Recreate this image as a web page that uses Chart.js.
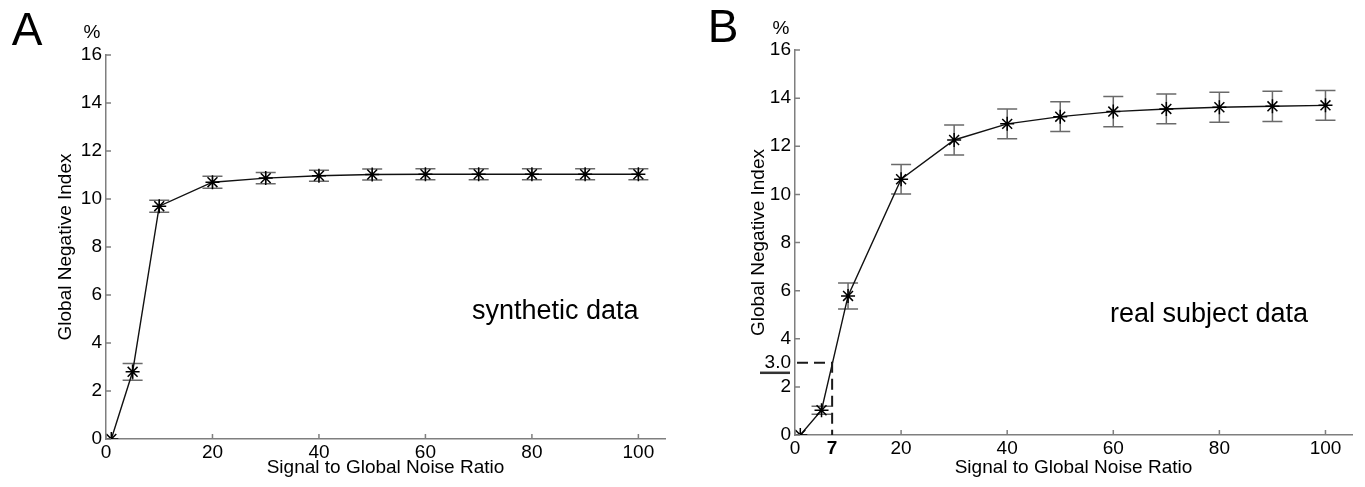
<!DOCTYPE html>
<html>
<head>
<meta charset="utf-8">
<script src="https://cdn.jsdelivr.net/npm/chart.js@4.4.0/dist/chart.umd.min.js"></script>
<style>
  body { margin: 0; background: #fff; width: 1365px; height: 487px; overflow: hidden; position: relative; }
  .panel { position: absolute; top: 0; height: 487px; }
  #wrapA { left: 0; width: 682px; }
  #wrapB { left: 682px; width: 683px; }
</style>
</head>
<body>
<div class="panel" id="wrapA"><canvas id="chartA"></canvas></div>
<div class="panel" id="wrapB"><canvas id="chartB"></canvas></div>
<script>
// signal to global noise ratio (x)
const snr = [1, 5, 10, 20, 30, 40, 50, 60, 70, 80, 90, 100];

// panel A: synthetic data
const syntheticGNI = [0, 2.8, 9.7, 10.7, 10.87, 10.97, 11.02, 11.03, 11.03, 11.03, 11.03, 11.03];
const syntheticErr = [0, 0.35, 0.25, 0.25, 0.23, 0.23, 0.23, 0.23, 0.23, 0.23, 0.23, 0.23];

// panel B: real subject data
const realGNI = [0, 1.03, 5.78, 10.63, 12.26, 12.93, 13.23, 13.44, 13.55, 13.62, 13.66, 13.7];
const realErr = [0, 0.17, 0.54, 0.61, 0.62, 0.62, 0.62, 0.63, 0.62, 0.62, 0.63, 0.62];

// tick labels
const xTicksA = [0, 20, 40, 60, 80, 100];
const yTicksA = [0, 2, 4, 6, 8, 10, 12, 14, 16];
const xTicksB = [0, 7, 20, 40, 60, 80, 100];
const yTicksB = [0, 2, 3, 4, 6, 8, 10, 12, 14, 16];

// threshold marked in panel B
const markSnr = 7;
const markGNI = 3.0;

const FONT = 'Arial, "Liberation Sans", sans-serif';
const AXIS_GREY = '#7f7f7f';

const decor = {
  id: 'decor',
  beforeDatasetsDraw(chart, args, opts) {
    const { ctx } = chart;
    const x = chart.scales.x, y = chart.scales.y;
    ctx.save();
    ctx.strokeStyle = '#6a6a6a';
    ctx.lineWidth = 1.5;
    opts.values.forEach((v, i) => {
      const e = opts.errors[i];
      if (!e) return;
      const px = x.getPixelForValue(opts.xs[i]);
      const top = y.getPixelForValue(v + e);
      const bot = y.getPixelForValue(v - e);
      ctx.beginPath();
      ctx.moveTo(px, top); ctx.lineTo(px, bot);
      ctx.moveTo(px - 10, top); ctx.lineTo(px + 10, top);
      ctx.moveTo(px - 10, bot); ctx.lineTo(px + 10, bot);
      ctx.stroke();
    });
    ctx.restore();
  },
  afterDraw(chart, args, opts) {
    const { ctx, chartArea } = chart;
    const x = chart.scales.x, y = chart.scales.y;
    ctx.save();
    // inward tick marks
    ctx.strokeStyle = AXIS_GREY;
    ctx.lineWidth = 1.5;
    ctx.beginPath();
    x.ticks.forEach(t => {
      if (t.value === markSnr && opts.mark) return;
      const px = x.getPixelForValue(t.value);
      ctx.moveTo(px, chartArea.bottom); ctx.lineTo(px, chartArea.bottom - 5);
    });
    y.ticks.forEach(t => {
      if (t.value === markGNI && opts.mark) return;
      const py = y.getPixelForValue(t.value);
      ctx.moveTo(chartArea.left, py); ctx.lineTo(chartArea.left + 5, py);
    });
    ctx.stroke();

    // dashed threshold lines
    if (opts.mark) {
      const mx = x.getPixelForValue(markSnr);
      const my = y.getPixelForValue(markGNI);
      ctx.strokeStyle = '#1a1a1a';
      ctx.lineWidth = 2;
      ctx.setLineDash([11, 6]);
      ctx.beginPath();
      ctx.moveTo(chartArea.left + 2, my); ctx.lineTo(mx, my);
      ctx.lineTo(mx, chartArea.bottom);
      ctx.stroke();
      ctx.setLineDash([]);
      ctx.strokeStyle = '#333';
      ctx.lineWidth = 2.5;
      ctx.beginPath();
      ctx.moveTo(chartArea.left - 35, my + 10); ctx.lineTo(chartArea.left - 5, my + 10);
      ctx.stroke();
    }

    // texts
    ctx.fillStyle = '#000';
    ctx.textBaseline = 'alphabetic';
    ctx.textAlign = 'center';
    ctx.font = '46px ' + FONT;
    ctx.fillText(opts.letter, opts.letterX, opts.letterY);
    ctx.font = '19px ' + FONT;
    ctx.fillText('%', opts.pctX, opts.pctY);
    ctx.textAlign = 'left';
    ctx.font = '27px ' + FONT;
    ctx.fillText(opts.note, opts.noteX, opts.noteY);
    ctx.restore();
  }
};

function makeChart(id, values, errors, xTicks, yTicks, geo, extra) {
  return new Chart(document.getElementById(id), {
    type: 'line',
    data: {
      datasets: [{
        data: snr.map((s, i) => ({ x: s, y: values[i] })),
        borderColor: '#111',
        borderWidth: 1.4,
        tension: 0,
        pointStyle: 'star',
        pointRadius: 7,
        pointBorderColor: '#000',
        pointBorderWidth: 1.5,
        fill: false,
      }]
    },
    options: {
      responsive: true,
      maintainAspectRatio: false,
      animation: false,
      layout: { padding: { top: geo.top, right: geo.right, left: 0, bottom: 0 } },
      scales: {
        x: {
          type: 'linear',
          min: 0,
          max: 105,
          afterBuildTicks: s => { s.ticks = xTicks.map(v => ({ value: v })); },
          afterFit: s => { s.height = geo.xHeight; },
          grid: { display: false, drawTicks: false },
          border: { display: true, color: AXIS_GREY, width: 1.5 },
          ticks: {
            color: '#000',
            padding: 2,
            maxRotation: 0,
            autoSkip: false,
            font: c => (c.tick && c.tick.value === markSnr)
              ? { family: FONT, size: 19, weight: 'bold' }
              : { family: FONT, size: 19 },
          },
          title: {
            display: true,
            text: 'Signal to Global Noise Ratio',
            color: '#000',
            font: { family: FONT, size: 19 },
            padding: { top: 0, bottom: 8 },
          },
        },
        y: {
          min: 0,
          max: 16,
          afterBuildTicks: s => { s.ticks = yTicks.map(v => ({ value: v })); },
          afterFit: s => { s.width = geo.yWidth; },
          grid: { display: false, drawTicks: false },
          border: { display: true, color: AXIS_GREY, width: 1.5 },
          ticks: {
            color: '#000',
            padding: 4,
            autoSkip: false,
            font: { family: FONT, size: 19 },
            callback: v => (v === markGNI ? '3.0' : v),
          },
          title: {
            display: true,
            text: 'Global Negative Index',
            color: '#000',
            font: { family: FONT, size: 19 },
            padding: { top: geo.yTitlePad, bottom: 0 },
          },
        },
      },
      plugins: {
        legend: { display: false },
        tooltip: { enabled: false },
        decor: Object.assign({ xs: snr, values: values, errors: errors }, extra),
      },
    },
    plugins: [decor],
  });
}

makeChart('chartA', syntheticGNI, syntheticErr, xTicksA, yTicksA,
  { top: 55, right: 17, xHeight: 48, yWidth: 106, yTitlePad: 54 },
  { mark: false, letter: 'A', letterX: 27, letterY: 45, pctX: 92, pctY: 38,
    note: 'synthetic data', noteX: 472, noteY: 319 });

makeChart('chartB', realGNI, realErr, xTicksB, yTicksB,
  { top: 50, right: 13, xHeight: 52, yWidth: 113, yTitlePad: 65 },
  { mark: true, letter: 'B', letterX: 41, letterY: 42, pctX: 99, pctY: 34,
    note: 'real subject data', noteX: 428, noteY: 322 });
</script>
</body>
</html>
